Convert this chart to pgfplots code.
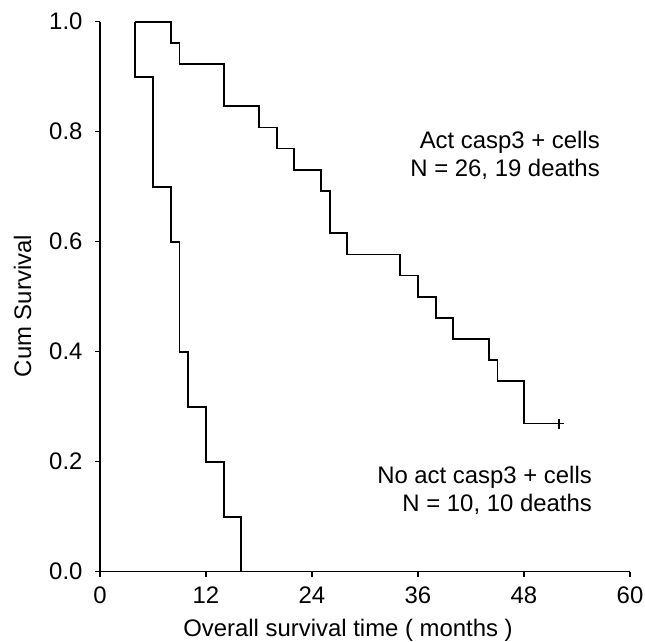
\documentclass[border=0pt]{standalone}
\usepackage{fontspec}
\setmainfont{Liberation Sans}
\usepackage{pgfplots}
\pgfplotsset{compat=1.18}
\newcommand{\lbl}{\fontsize{23.9}{28.7}\selectfont}

\begin{document}
\begin{tikzpicture}
\begin{axis}[scale only axis,width=530pt,height=550pt,
  xmin=0,xmax=60,ymin=0,ymax=1,
  axis x line=bottom,axis y line=left,axis line style={-,line width=1.2pt},
  xtick={0,12,24,36,48,60},ytick={0,0.2,0.4,0.6,0.8,1.0},
  tick align=outside,major tick length=5pt,tick style={line width=1.2pt,black},
  yticklabel style={/pgf/number format/fixed,/pgf/number format/fixed zerofill,/pgf/number format/precision=1,xshift=-9pt},
  xticklabel style={yshift=-7pt},
  /pgf/number format/assume math mode=true,
  tick label style={font=\lbl},
  xlabel={Overall survival time ( months )},ylabel={Cum Survival},
  xlabel style={font=\lbl,at={(axis description cs:0.468,-0.086)},anchor=north,inner sep=0pt},
  ylabel style={font=\lbl,at={(axis description cs:-0.163,0.483)},anchor=north,rotate=0,inner sep=0pt},
  clip=false]
% Act casp3 + cells, N = 26
\addplot[const plot,line width=1.7pt,black] coordinates {(4,1)(8,0.9615)(9,0.9231)(14,0.8462)(18,0.8077)(20,0.7692)(22,0.7308)(25,0.6923)(26,0.6154)(28,0.5769)(34,0.5385)(36,0.5)(38,0.4615)(40,0.4231)(44,0.3846)(45,0.3462)(48,0.2692)(52,0.2692)};
% censored
\addplot[only marks,mark=+,mark size=5pt,line width=1.7pt,black] coordinates {(52,0.2692)};
% No act casp3 + cells, N = 10
\addplot[const plot,line width=1.7pt,black] coordinates {(4,1)(4,0.9)(6,0.7)(8,0.6)(9,0.4)(10,0.3)(12,0.2)(14,0.1)(16,0)};
\node[anchor=base east,font=\lbl,inner sep=0pt] at (axis cs:56.6,0.770) {Act casp3 + cells};
\node[anchor=base east,font=\lbl,inner sep=0pt] at (axis cs:56.6,0.718) {N = 26, 19 deaths};
\node[anchor=base east,font=\lbl,inner sep=0pt] at (axis cs:55.7,0.161) {No act casp3 + cells};
\node[anchor=base east,font=\lbl,inner sep=0pt] at (axis cs:55.7,0.109) {N = 10, 10 deaths};
\end{axis}
\pgfresetboundingbox
\path ([shift={(-100pt,-69.3pt)}]current axis.south west) rectangle ([shift={(15pt,21.7pt)}]current axis.north east);
\end{tikzpicture}
\end{document}
